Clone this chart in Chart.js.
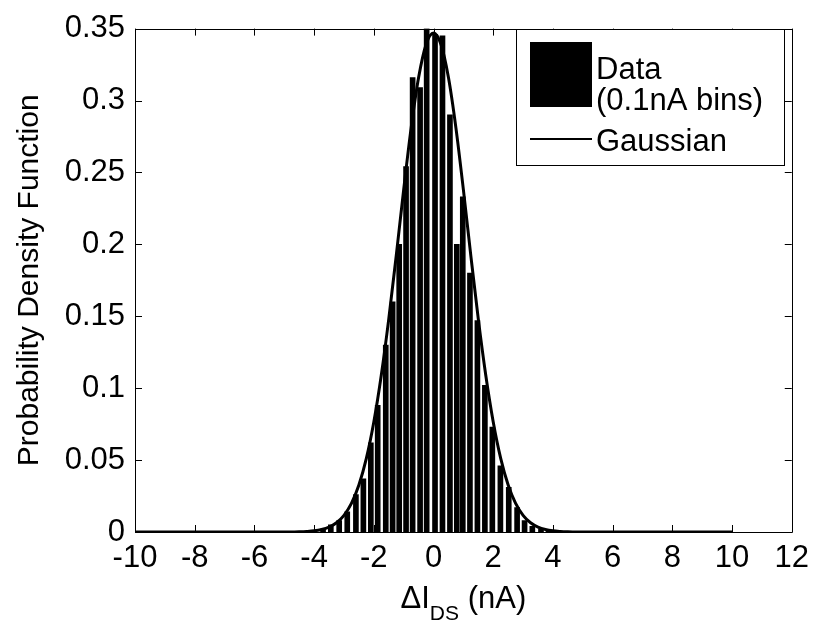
<!DOCTYPE html>
<html>
<head>
<meta charset="utf-8">
<script src="https://cdn.jsdelivr.net/npm/chart.js@4/dist/chart.umd.min.js"></script>
<style>
  html, body { margin: 0; padding: 0; background: #fff; }
  #wrap { width: 817px; height: 627px; }
</style>
</head>
<body>
<div id="wrap"><canvas id="pdfChart" width="817" height="627"></canvas></div>
<script>
// histogram bars as they show in the figure (centre in nA, density)
const binCenters = [-4.0, -3.7, -3.44, -3.16, -2.89, -2.6, -2.35, -2.1, -1.87, -1.6, -1.37, -1.15,
    -0.92, -0.7, -0.45, -0.23, 0.05, 0.3, 0.55, 0.78, 0.98, 1.22, 1.47, 1.72, 1.97, 2.24, 2.52,
    2.8, 3.05, 3.31, 3.6, 3.85, 4.1];
const binDensity = [0.001, 0.002, 0.005, 0.008, 0.014, 0.026, 0.037, 0.062, 0.088, 0.13, 0.16, 0.20,
    0.254, 0.316, 0.309, 0.35, 0.346, 0.345, 0.29, 0.20, 0.233, 0.18, 0.147, 0.102, 0.073, 0.046, 0.031,
    0.017, 0.008, 0.004, 0.002, 0.001, 0.001];

// gaussian fit curve
const gaussX = [-10, -5, -4.5, -4.25, -4, -3.75, -3.5, -3.25, -3, -2.75, -2.5, -2.25, -2, -1.75, -1.5,
    -1.25, -1, -0.75, -0.5, -0.25, 0, 0.25, 0.5, 0.75, 1, 1.25, 1.5, 1.75, 2, 2.25, 2.5, 2.75, 3,
    3.25, 3.5, 3.75, 4, 4.25, 4.5, 5, 10];
const gaussY = [0, 0, 0.0002, 0.0004, 0.0008, 0.0017, 0.0034, 0.0064, 0.0116, 0.0199, 0.0327, 0.0512,
    0.0765, 0.109, 0.148, 0.192, 0.238, 0.281, 0.316, 0.339, 0.347, 0.339, 0.316, 0.281, 0.238, 0.192,
    0.148, 0.109, 0.0765, 0.0512, 0.0327, 0.0199, 0.0116, 0.0064, 0.0034, 0.0017, 0.0008, 0.0004, 0.0002,
    0, 0];

const xTicks = [-10, -8, -6, -4, -2, 0, 2, 4, 6, 8, 10, 12];
const yTicks = [0, 0.05, 0.1, 0.15, 0.2, 0.25, 0.3, 0.35];

const FONT = '"Liberation Sans", Arial, sans-serif';
Chart.defaults.color = '#000';
Chart.defaults.font.family = FONT;

// matlab style box, inward ticks, legend and the subscripted x label
const matlabAxes = {
    id: 'matlabAxes',
    afterDraw(chart) {
        const ctx = chart.ctx;
        const a = chart.chartArea;
        const x = chart.scales.x, y = chart.scales.y;
        ctx.save();
        ctx.strokeStyle = '#000';
        ctx.lineWidth = 1;
        ctx.beginPath();
        ctx.rect(Math.round(a.left) + 0.5, Math.round(a.top) + 0.5, Math.round(a.width), Math.round(a.height));
        xTicks.forEach(v => {
            const px = Math.round(x.getPixelForValue(v)) + 0.5;
            ctx.moveTo(px, a.bottom); ctx.lineTo(px, a.bottom - 7);
            ctx.moveTo(px, a.top); ctx.lineTo(px, a.top + 7);
        });
        yTicks.forEach(v => {
            const py = Math.round(y.getPixelForValue(v)) + 0.5;
            ctx.moveTo(a.left, py); ctx.lineTo(a.left + 7, py);
            ctx.moveTo(a.right, py); ctx.lineTo(a.right - 7, py);
        });
        ctx.stroke();

        // legend
        const lx = Math.round(a.right) - 276, ly = Math.round(a.top);
        ctx.fillStyle = '#fff';
        ctx.fillRect(lx, ly, 268, 136);
        ctx.strokeRect(lx + 0.5, ly + 0.5, 268, 136);
        ctx.fillStyle = '#000';
        ctx.fillRect(lx + 14, ly + 13, 62, 65);
        ctx.lineWidth = 2;
        ctx.beginPath();
        ctx.moveTo(lx + 14, ly + 110); ctx.lineTo(lx + 76, ly + 110);
        ctx.stroke();
        ctx.font = '31px ' + FONT;
        ctx.textBaseline = 'alphabetic';
        ctx.textAlign = 'left';
        const lab = chart.data.datasets[0].label.split('\n');
        ctx.fillText(lab[0], lx + 80, ly + 50);
        ctx.fillText(lab[1], lx + 80, ly + 81);
        ctx.fillText(chart.data.datasets[1].label, lx + 80, ly + 122);

        // x axis title with subscript
        const main1 = '\u0394I', sub = 'DS', main2 = ' (nA)';
        ctx.font = '31px ' + FONT;
        const w1 = ctx.measureText(main1).width, w3 = ctx.measureText(main2).width;
        ctx.font = '21px ' + FONT;
        const w2 = ctx.measureText(sub).width;
        let sx = (a.left + a.right) / 2 - (w1 + w2 + w3) / 2;
        const by = 608;
        ctx.font = '31px ' + FONT;
        ctx.fillText(main1, sx, by);
        ctx.font = '21px ' + FONT;
        ctx.fillText(sub, sx + w1, by + 12);
        ctx.font = '31px ' + FONT;
        ctx.fillText(main2, sx + w1 + w2, by);
        ctx.restore();
    }
};

new Chart(document.getElementById('pdfChart').getContext('2d'), {
    type: 'bar',
    data: {
        datasets: [{
            type: 'bar',
            label: 'Data\n(0.1nA bins)',
            data: binCenters.map((c, i) => ({x: c, y: binDensity[i]})),
            backgroundColor: '#000',
            borderWidth: 0,
            barThickness: 5,
            order: 2
        }, {
            type: 'line',
            label: 'Gaussian',
            data: gaussX.map((c, i) => ({x: c, y: gaussY[i]})),
            borderColor: '#000',
            borderWidth: 3,
            pointRadius: 0,
            cubicInterpolationMode: 'monotone',
            fill: false,
            order: 1
        }]
    },
    options: {
        responsive: false,
        animation: false,
        layout: { padding: { top: 26, right: 22, left: 0, bottom: 0 } },
        plugins: { legend: { display: false }, tooltip: { enabled: false } },
        scales: {
            x: {
                type: 'linear',
                offset: false,
                min: -10, max: 12,
                grid: { display: false, drawTicks: false, offset: false },
                border: { display: false },
                afterBuildTicks: s => { s.ticks = xTicks.map(v => ({value: v})); },
                afterFit: s => { s.height = 95; },
                ticks: { font: { size: 31 }, padding: 8, maxRotation: 0, autoSkip: false }
            },
            y: {
                min: 0, max: 0.35,
                grid: { display: false, drawTicks: false },
                border: { display: false },
                afterBuildTicks: s => { s.ticks = yTicks.map(v => ({value: v})); },
                afterFit: s => { s.width = 135; },
                ticks: { font: { size: 31 }, padding: 10, callback: v => String(Math.round(v * 100) / 100) },
                title: { display: true, text: 'Probability Density Function', font: { size: 30 }, padding: { top: 12, bottom: 0 } }
            }
        }
    },
    plugins: [matlabAxes]
});
</script>
</body>
</html>
